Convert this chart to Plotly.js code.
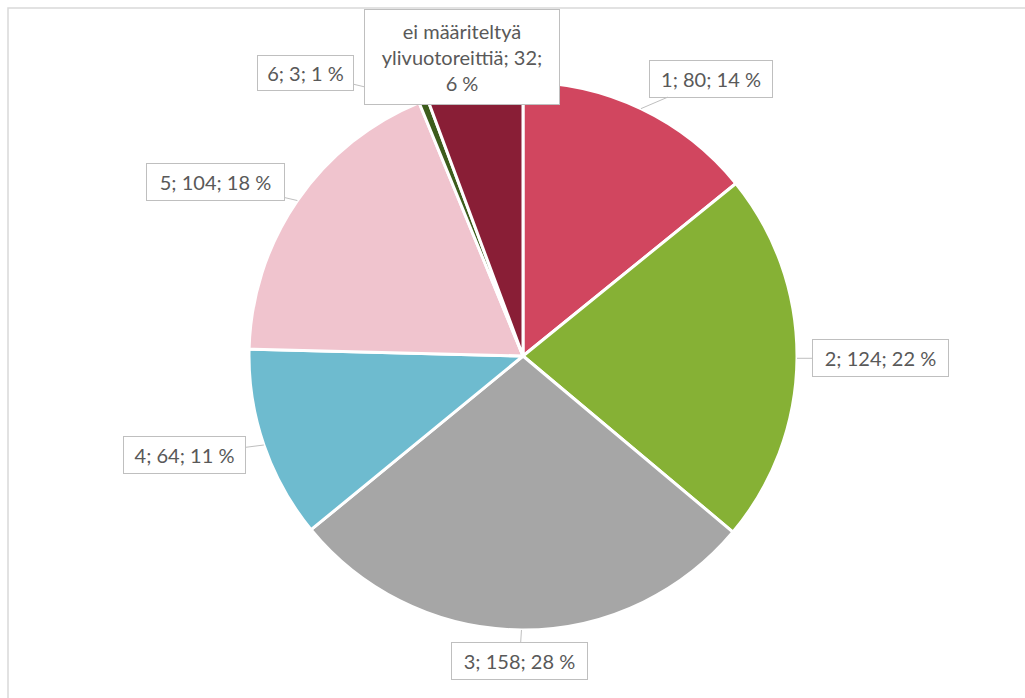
<!DOCTYPE html>
<html>
<head>
<meta charset="utf-8">
<script src="https://cdn.plot.ly/plotly-3.0.1.min.js"></script>
<style>
html,body{margin:0;padding:0;background:#fff;}
#chart{width:1025px;height:698px;}
</style>
</head>
<body>
<div id="chart"></div>
<script>
// ---- data ----
const categories = ["1", "2", "3", "4", "5", "6", "ei määriteltyä ylivuotoreittiä"];
const values = [80, 124, 158, 64, 104, 3, 32];
const percentLabels = ["14 %", "22 %", "28 %", "11 %", "18 %", "1 %", "6 %"];
const labelTexts = [
  "1; 80; 14 %",
  "2; 124; 22 %",
  "3; 158; 28 %",
  "4; 64; 11 %",
  "5; 104; 18 %",
  "6; 3; 1 %",
  "ei määriteltyä<br>ylivuotoreittiä; 32;<br>6 %"
];
const colors = ["#D1465F", "#86B135", "#A6A6A6", "#6EBBCF", "#F0C4CE", "#3D5C1C", "#891E36"];

// ---- layout geometry ----
const W = 1025, H = 698;
const CX = 523, CY = 356, R = 274;
// label box offsets (pixels from slice edge point to box centre) and box sizes
const offsets = [[70, -30], [84, 0], [-2, 31], [-79, 10], [-82, -19], [-118, -28], [-13, -29]];
const boxSizes = [[122, 36], [135, 36], [135, 36], [121, 36], [137, 36], [95, 34], [194, 94]];

const total = values.reduce((a, b) => a + b, 0);
let cum = 0;
const annotations = values.map((v, i) => {
  const mid = (cum + v / 2) / total;
  cum += v;
  const th = mid * 2 * Math.PI;
  const px = CX + R * Math.sin(th);
  const py = CY - R * Math.cos(th);
  return {
    xref: "paper", yref: "paper",
    x: px / W, y: 1 - py / H,
    ax: offsets[i][0], ay: offsets[i][1],
    text: labelTexts[i],
    showarrow: true,
    arrowhead: 0, arrowwidth: 1, standoff: 0,
    arrowcolor: i === 6 ? "rgba(0,0,0,0)" : "#BFBFBF",
    bgcolor: "#FFFFFF",
    bordercolor: "#BFBFBF",
    borderwidth: 1,
    borderpad: 0,
    width: boxSizes[i][0],
    height: boxSizes[i][1],
    align: "center", valign: "middle",
    font: {family: "Lato, 'Open Sans', sans-serif", size: 20, color: "#595959"}
  };
});

const trace = {
  type: "pie",
  labels: categories,
  values: values,
  sort: false,
  direction: "clockwise",
  rotation: 0,
  textinfo: "none",
  hoverinfo: "none",
  marker: {colors: colors, line: {color: "#FFFFFF", width: 3}},
  domain: {x: [(CX - R) / W, (CX + R) / W], y: [1 - (CY + R) / H, 1 - (CY - R) / H]},
  showlegend: false
};

const layout = {
  width: W, height: H,
  margin: {l: 0, r: 0, t: 0, b: 0},
  paper_bgcolor: "#FFFFFF",
  showlegend: false,
  annotations: annotations,
  shapes: [{
    type: "rect", xref: "paper", yref: "paper",
    x0: 8 / W, x1: 1.05, y0: -0.05, y1: 1 - 8 / H,
    line: {color: "#D9D9D9", width: 1.5}, fillcolor: "rgba(0,0,0,0)", layer: "below"
  }]
};

Plotly.newPlot("chart", [trace], layout, {displayModeBar: false, staticPlot: true});
</script>
</body>
</html>
